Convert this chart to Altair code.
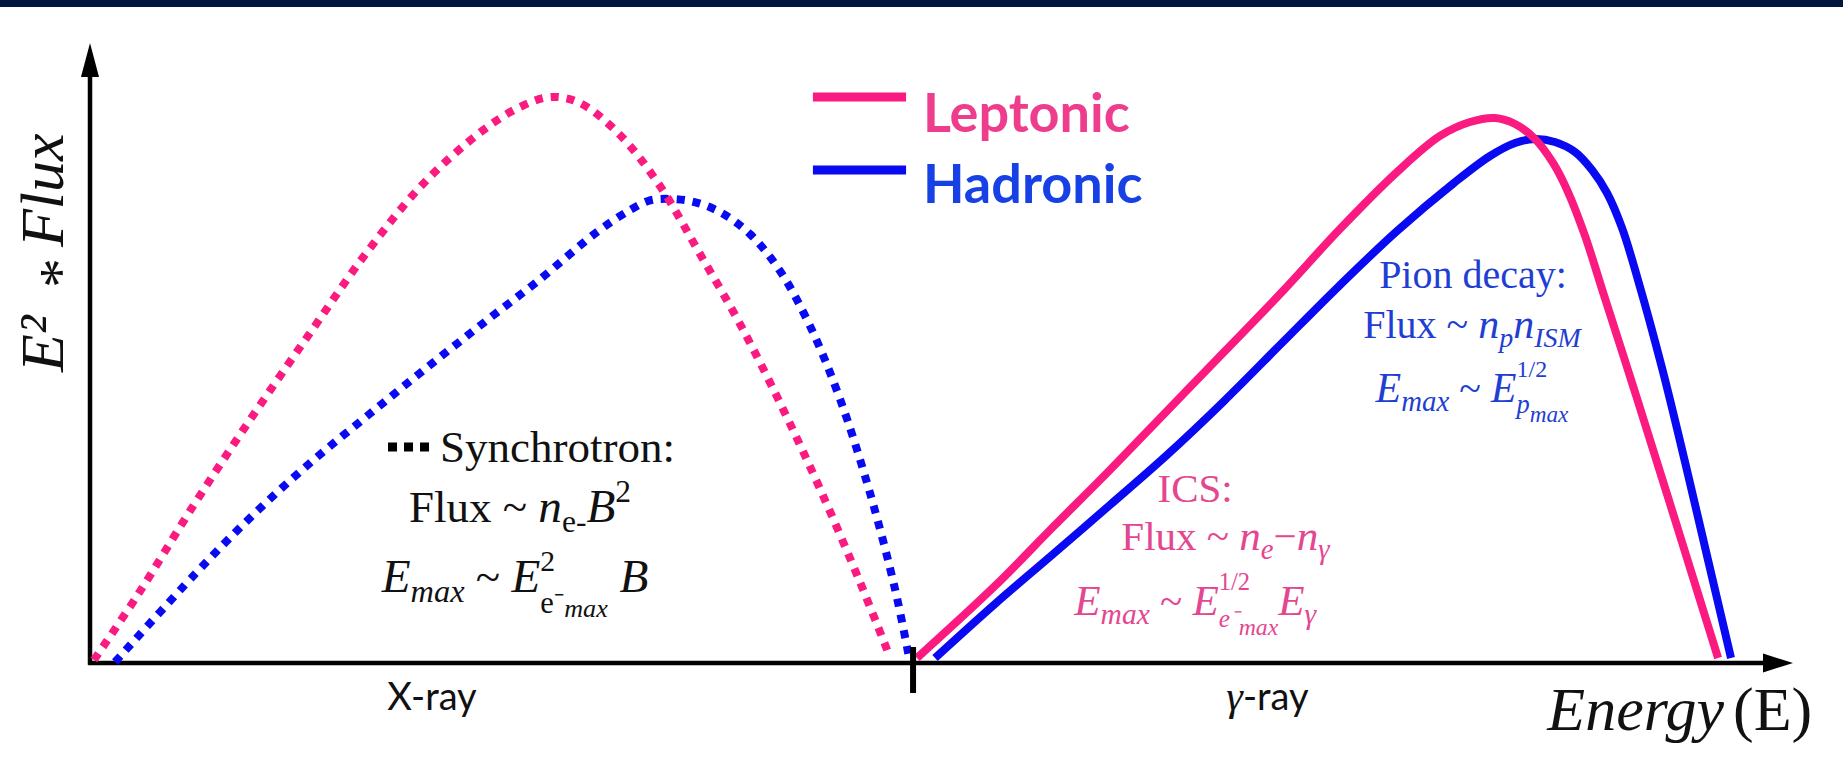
import altair as alt
import pandas as pd

# ---------------------------------------------------------------------------
# Schematic SED: energy runs 0-100 along x, E^2*Flux runs 0-100 along y.
# ---------------------------------------------------------------------------

# Synchrotron bumps (X-ray band, dotted)
sync_lep_x = [0.23, 2.76, 6.17, 9.51, 12.92, 16.27, 19.61, 23.02, 25.25, 27.07, 28.77, 31.12,
              33.47, 35.82, 38.17, 40.52, 42.87, 45.21, 46.97]
sync_lep_y = [0.49, 10.84, 25.89, 39.81, 53.40, 66.50, 77.67, 86.08, 89.97, 91.59, 90.61, 85.44,
              77.18, 66.18, 54.85, 42.07, 28.16, 13.11, 0.97]

sync_had_x = [1.47, 6.17, 9.51, 12.92, 16.27, 19.61, 23.02, 26.37, 29.77, 31.71, 32.77, 33.47,
              35.23, 36.99, 38.75, 40.52, 42.28, 44.04, 45.80, 47.27, 48.10]
sync_had_y = [0.16, 14.40, 23.79, 32.36, 39.97, 47.41, 54.85, 61.97, 69.74, 73.30, 74.76, 75.08,
              74.76, 72.98, 69.42, 63.43, 54.53, 42.72, 27.51, 11.97, 0.80]

# Gamma-ray bumps (solid): inverse Compton (leptonic) and pion decay (hadronic)
gamma_lep_x = [48.56, 53.14, 56.49, 59.89, 63.24, 66.59, 69.99, 73.34, 76.75, 79.27, 81.03,
               82.50, 83.68, 84.85, 85.91, 86.79, 87.79, 88.84, 90.72, 92.60, 94.54, 95.60]
gamma_lep_y = [0.81, 12.46, 21.84, 31.23, 40.78, 50.32, 60.03, 70.06, 79.45, 85.28, 87.54,
               88.19, 87.22, 84.79, 80.91, 76.21, 69.09, 60.03, 43.85, 27.35, 10.19, 0.81]

gamma_had_x = [49.62, 53.14, 56.49, 59.89, 63.24, 66.59, 69.99, 73.34, 76.75, 80.09, 82.21,
               83.68, 84.85, 86.02, 87.20, 88.20, 89.08, 89.96, 90.90, 92.31, 93.66, 95.01, 96.36]
gamma_had_y = [0.81, 9.55, 17.48, 25.57, 33.66, 42.39, 51.78, 61.00, 69.90, 77.67, 82.04,
               84.14, 84.79, 84.30, 82.69, 79.77, 76.05, 70.39, 61.97, 47.73, 32.52, 16.67, 0.81]

# band divider on the energy axis
band_split = 48.33

PINK = "#FA1A80"
BLUE = "#0A0AF2"
PINK_TXT = "#EE3D8C"
BLUE_TXT = "#1740E5"
ICS_TXT = "#E4468F"
PION_TXT = "#1F3ED3"
INK = "#111111"

W, H = 1703, 618
PX_X = W / 100.0
PX_Y = H / 100.0

xs = alt.Scale(domain=[0, 100], nice=False, zero=False)
ys = alt.Scale(domain=[0, 100], nice=False, zero=False)


def X(field):
    return alt.X(field, type="quantitative", scale=xs, axis=None)


def Y(field):
    return alt.Y(field, type="quantitative", scale=ys, axis=None)


def curve(xv, yv, color, dotted):
    df = pd.DataFrame({"e": xv, "f": yv})
    props = dict(color=color, strokeWidth=8, interpolate="catmull-rom", strokeCap="butt")
    if dotted:
        props["strokeDash"] = [8, 8]
    return alt.Chart(df).mark_line(**props).encode(x=X("e"), y=Y("f"))


# ---------------------------------------------------------------------------
# Simple rich-text layout (Times metrics, 1/1000 em) for the formula labels
# ---------------------------------------------------------------------------
TIMES_R = {' ': 250, '~': 541, '-': 333, '−': 564, '⁻': 340, '/': 278, ':': 278, '1': 500,
           '2': 500, '(': 333, ')': 333, 'F': 556, 'l': 278, 'u': 500, 'x': 500, 'S': 556,
           'y': 500, 'n': 500, 'c': 444, 'h': 500, 'r': 333, 'o': 500, 't': 278, 'I': 333,
           'C': 667, 'P': 556, 'i': 278, 'd': 500, 'e': 444, 'a': 444, 'E': 611}
TIMES_I = {' ': 250, 'E': 611, 'm': 722, 'a': 500, 'x': 444, 'n': 500, 'B': 611, 'p': 500,
           'I': 333, 'S': 500, 'M': 833, 'e': 444, 'γ': 440, 'r': 389, 'g': 500, 'y': 444,
           '⁻': 340}


def seg_w(text, italic, size):
    table = TIMES_I if italic else TIMES_R
    return sum(table.get(ch, 500) for ch in text) * size / 1000.0


R, I = False, True

formula_lines = [
    # synchrotron
    dict(x=20.55, y=32.52, size=45, color=INK, anchor="left",
         segs=[("Synchrotron:", R, 1.0, 0.0)]),
    dict(x=25.25, y=22.82, size=45, color=INK,
         segs=[("Flux ~ ", R, 1.0, 0.0), ("n", I, 1.05, 0.0), ("e-", R, 0.7, 0.22),
               ("B", I, 1.05, 0.0), ("2", R, 0.7, -0.45)]),
    dict(x=24.96, y=11.49, size=45, color=INK,
         segs=[("E", I, 1.05, 0.0), ("max", I, 0.72, 0.22), (" ~ ", R, 1.0, 0.0),
               ("E", I, 1.05, 0.0), ("2", R, 0.66, -0.47, False), ("e⁻", R, 0.68, 0.46),
               ("max", I, 0.58, 0.56), (" B", I, 1.05, 0.0)]),
    # inverse Compton
    dict(x=64.89, y=26.05, size=41, color=ICS_TXT,
         segs=[("ICS:", R, 1.0, 0.0)]),
    dict(x=66.71, y=18.28, size=41, color=ICS_TXT,
         segs=[("Flux ~ ", R, 1.0, 0.0), ("n", I, 1.05, 0.0), ("e", I, 0.7, 0.22),
               ("−", R, 1.0, 0.0), ("n", I, 1.05, 0.0), ("γ", I, 0.7, 0.22)]),
    dict(x=64.94, y=7.77, size=41, color=ICS_TXT,
         segs=[("E", I, 1.05, 0.0), ("max", I, 0.72, 0.22), (" ~ ", R, 1.0, 0.0),
               ("E", I, 1.05, 0.0), ("1/2", R, 0.6, -0.62, False), ("e⁻", I, 0.62, 0.3),
               ("max", I, 0.58, 0.5), ("E", I, 1.05, 0.0), ("γ", I, 0.72, 0.22)]),
    # pion decay
    dict(x=81.21, y=60.68, size=40, color=PION_TXT,
         segs=[("Pion decay:", R, 1.0, 0.0)]),
    dict(x=81.15, y=52.59, size=40, color=PION_TXT,
         segs=[("Flux ~ ", R, 1.0, 0.0), ("n", I, 1.05, 0.0), ("p", I, 0.7, 0.22),
               ("n", I, 1.05, 0.0), ("ISM", I, 0.7, 0.22)]),
    dict(x=81.15, y=42.23, size=40, color=PION_TXT,
         segs=[("E", I, 1.05, 0.0), ("max", I, 0.72, 0.22), (" ~ ", R, 1.0, 0.0),
               ("E", I, 1.05, 0.0), ("1/2", R, 0.6, -0.62, False), ("p", I, 0.66, 0.28),
               ("max", I, 0.58, 0.5)]),
]


def layout(lines):
    rows = []
    for ln in lines:
        F = ln["size"]
        segs = [s if len(s) == 5 else s + (True,) for s in ln["segs"]]
        total = sum(seg_w(t, it, F * k) for t, it, k, dy, adv in segs if adv)
        cur = -total / 2.0 if ln.get("anchor", "center") == "center" else 0.0
        for t, it, k, dy, adv in segs:
            size = F * k
            lead = len(t) - len(t.lstrip(" "))
            x_px = cur + seg_w(" " * lead, it, size)
            rows.append({"x": ln["x"] + x_px / PX_X,
                         "y": ln["y"] - dy * F / PX_Y,
                         "t": t.strip(" "), "s": size, "c": ln["color"], "italic": it})
            if adv:
                cur += seg_w(t, it, size)
    return pd.DataFrame(rows)


formula_df = layout(formula_lines)


def text_layer(df, italic):
    return alt.Chart(df[df["italic"] == italic]).mark_text(
        font="Liberation Serif", fontStyle="italic" if italic else "normal",
        align="left", baseline="alphabetic"
    ).encode(x=X("x"), y=Y("y"), text="t:N",
             size=alt.Size("s:Q", scale=None), color=alt.Color("c:N", scale=None))


# ---------------------------------------------------------------------------
# Axes drawn as arrows
# ---------------------------------------------------------------------------
axis_lines = pd.DataFrame({"x0": [0.0, -0.1], "x1": [0.0, 98.35],
                           "y0": [-0.3, 0.0], "y1": [94.9, 0.0]})
axes = alt.Chart(axis_lines).mark_rule(color="black", strokeWidth=4.5).encode(
    x=X("x0"), x2="x1", y=Y("y0"), y2="y1")

y_head = alt.Chart(pd.DataFrame({"x": [0.0], "y": [97.57]})).mark_point(
    shape="M0,-1L0.53,1L-0.53,1Z", filled=True, color="black", opacity=1, size=1156
).encode(x=X("x"), y=Y("y"))
x_head = alt.Chart(pd.DataFrame({"x": [99.12], "y": [0.0]})).mark_point(
    shape="M1,0L-1,0.63L-1,-0.63Z", filled=True, color="black", opacity=1, size=900
).encode(x=X("x"), y=Y("y"))

divider = alt.Chart(pd.DataFrame({"x": [band_split], "y0": [-4.85], "y1": [2.59]})).mark_rule(
    color="black", strokeWidth=6).encode(x=X("x"), y=Y("y0"), y2="y1")

# axis captions
band_labels = alt.Chart(pd.DataFrame({"x": [20.08], "y": [-7.61], "t": ["X-ray"]})).mark_text(
    font="Lato", fontSize=38, align="center", baseline="alphabetic", color=INK
).encode(x=X("x"), y=Y("y"), text="t:N")
gamma_sym = alt.Chart(pd.DataFrame({"x": [67.70], "y": [-7.61], "t": ["γ"]})).mark_text(
    font="Liberation Serif", fontStyle="italic", fontSize=42, align="right",
    baseline="alphabetic", color=INK
).encode(x=X("x"), y=Y("y"), text="t:N")
gamma_rest = alt.Chart(pd.DataFrame({"x": [67.70], "y": [-7.61], "t": ["-ray"]})).mark_text(
    font="Lato", fontSize=38, align="left", baseline="alphabetic", color=INK
).encode(x=X("x"), y=Y("y"), text="t:N")

energy_word = alt.Chart(pd.DataFrame({"x": [95.95], "y": [-10.84], "t": ["Energy"]})).mark_text(
    font="Liberation Serif", fontStyle="italic", fontSize=62, align="right",
    baseline="alphabetic", color=INK
).encode(x=X("x"), y=Y("y"), text="t:N")
energy_sym = alt.Chart(pd.DataFrame({"x": [96.48], "y": [-10.84], "t": ["(E)"]})).mark_text(
    font="Liberation Serif", fontSize=62, align="left", baseline="alphabetic", color=INK
).encode(x=X("x"), y=Y("y"), text="t:N")

# vertical title, set in three pieces reading bottom to top
y_title_df = pd.DataFrame({"x": [-1.59, -0.61, -1.59], "y": [47.09, 63.11, 67.31],
                           "t": ["E²", "*", "Flux"], "it": [True, False, True],
                           "al": ["left", "center", "left"]})
y_title = alt.layer(*[
    alt.Chart(y_title_df.iloc[[i]]).mark_text(
        font="Liberation Serif", fontStyle="italic" if row.it else "normal",
        fontSize=62 if row.it else 60, angle=270, align=row.al,
        baseline="alphabetic", color=INK
    ).encode(x=X("x"), y=Y("y"), text="t:N")
    for i, row in enumerate(y_title_df.itertuples())
])

# ---------------------------------------------------------------------------
# Legend
# ---------------------------------------------------------------------------
legend_df = pd.DataFrame({"x0": [42.45, 42.45], "x1": [47.92, 47.92],
                          "y": [91.59, 79.77], "c": [PINK, BLUE],
                          "tx": [48.91, 48.91], "ty": [85.92, 74.43],
                          "t": ["Leptonic", "Hadronic"], "tc": [PINK_TXT, BLUE_TXT]})
legend_rules = alt.Chart(legend_df).mark_rule(strokeWidth=9, strokeCap="butt").encode(
    x=X("x0"), x2="x1", y=Y("y"), color=alt.Color("c:N", scale=None))
legend_text = alt.Chart(legend_df).mark_text(
    font="Lato", fontWeight="bold", fontSize=54, align="left", baseline="alphabetic"
).encode(x=X("tx"), y=Y("ty"), text="t:N", color=alt.Color("tc:N", scale=None))

sync_key = alt.Chart(pd.DataFrame({"x0": [17.50], "x1": [20.08], "y": [34.95]})).mark_rule(
    color="black", strokeWidth=9, strokeDash=[9, 7], strokeCap="butt"
).encode(x=X("x0"), x2="x1", y=Y("y"))

# slide header band
header = alt.Chart(pd.DataFrame({"k": [0]})).mark_rect(color="#00163C").encode(
    x=alt.value(-90), x2=alt.value(1753), y=alt.value(-45), y2=alt.value(-38))

chart = alt.layer(
    header,
    axes, y_head, x_head,
    curve(sync_had_x, sync_had_y, BLUE, True),
    curve(sync_lep_x, sync_lep_y, PINK, True),
    curve(gamma_had_x, gamma_had_y, BLUE, False),
    curve(gamma_lep_x, gamma_lep_y, PINK, False),
    divider,
    band_labels, gamma_sym, gamma_rest, energy_word, energy_sym, y_title,
    legend_rules, legend_text, sync_key,
    text_layer(formula_df, False), text_layer(formula_df, True),
).properties(
    width=W, height=H,
    padding={"left": 90, "top": 45, "right": 50, "bottom": 116},
    autosize=alt.AutoSizeParams(type="none"),
    background="white",
).configure_view(stroke=None)

chart.save("out.html", embed_options={"renderer": "svg", "actions": False})
